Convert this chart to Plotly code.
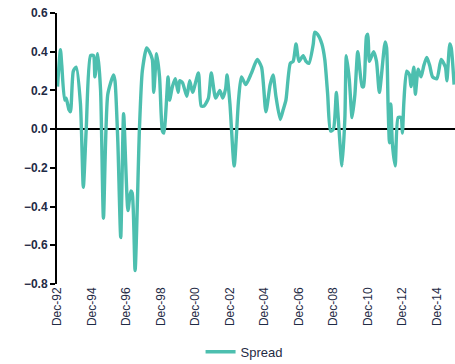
import plotly.graph_objects as go

dates = [
    "1992-12", "1993-02", "1993-03", "1993-05", "1993-06", "1993-08", "1993-09", "1993-11",
    "1994-01", "1994-04", "1994-06", "1994-08", "1994-11", "1995-01", "1995-02", "1995-04",
    "1995-06", "1995-08", "1995-11", "1996-03", "1996-04", "1996-06", "1996-08", "1996-10",
    "1997-01", "1997-03", "1997-04", "1997-06", "1997-09", "1997-11", "1998-02", "1998-04",
    "1998-06", "1998-07", "1998-09", "1998-11", "1999-01", "1999-02", "1999-05", "1999-06",
    "1999-08", "1999-10", "1999-12", "2000-01", "2000-03", "2000-06", "2000-08", "2000-10",
    "2001-02", "2001-04", "2001-06", "2001-09", "2001-11", "2002-02", "2002-05", "2002-07",
    "2002-09", "2002-10", "2002-12", "2003-03", "2003-06", "2003-08", "2003-11", "2004-03",
    "2004-07", "2004-10", "2005-01", "2005-04", "2005-06", "2005-08", "2005-11", "2006-01",
    "2006-03", "2006-06", "2006-08", "2006-10", "2006-12", "2007-03", "2007-05", "2007-07",
    "2007-10", "2007-11", "2008-01", "2008-04", "2008-06", "2008-08", "2008-10", "2008-12",
    "2009-02", "2009-03", "2009-06", "2009-08", "2009-09", "2009-11", "2010-01", "2010-03",
    "2010-05", "2010-08", "2010-09", "2010-11", "2010-12", "2011-01", "2011-04", "2011-06",
    "2011-08", "2011-12", "2012-01", "2012-02", "2012-03", "2012-04", "2012-05", "2012-07",
    "2012-09", "2012-11", "2012-12", "2013-01", "2013-03", "2013-05", "2013-06", "2013-08",
    "2013-09", "2013-11", "2014-01", "2014-03", "2014-05", "2014-07", "2014-09", "2014-12",
    "2015-03", "2015-06", "2015-07", "2015-09", "2015-10", "2015-12",
]
spread = [
    0.22, 0.41, 0.33, 0.15, 0.16, 0.10, 0.09, 0.30,
    0.32, 0.13, -0.30, 0.00, 0.38, 0.38, 0.27, 0.39,
    0.20, -0.46, 0.18, 0.28, 0.25, -0.07, -0.56, 0.08,
    -0.42, -0.32, -0.33, -0.73, 0.00, 0.30, 0.42, 0.40,
    0.36, 0.19, 0.39, 0.27, -0.01, -0.02, 0.27, 0.15,
    0.22, 0.26, 0.19, 0.25, 0.24, 0.17, 0.25, 0.19,
    0.29, 0.12, 0.12, 0.16, 0.29, 0.16, 0.20, 0.16,
    0.21, 0.28, 0.13, -0.19, 0.15, 0.27, 0.23, 0.29,
    0.36, 0.32, 0.09, 0.23, 0.28, 0.17, 0.05, 0.10,
    0.15, 0.34, 0.35, 0.44, 0.35, 0.38, 0.35, 0.34,
    0.44, 0.50, 0.49, 0.44, 0.36, 0.18, -0.01, 0.00,
    0.19, 0.10, -0.19, 0.06, 0.38, 0.26, 0.06, 0.18,
    0.40, 0.22, 0.22, 0.48, 0.49, 0.35, 0.40, 0.35,
    0.19, 0.45, 0.42, 0.13, -0.07, 0.13, -0.07, -0.19,
    0.06, 0.06, -0.02, 0.14, 0.30, 0.28, 0.22, 0.32,
    0.18, 0.31, 0.27, 0.33, 0.37, 0.33, 0.27, 0.26,
    0.36, 0.32, 0.25, 0.44, 0.42, 0.23,
]

y_ticks = [0.6, 0.4, 0.2, 0.0, -0.2, -0.4, -0.6, -0.8]

fig = go.Figure()
fig.add_trace(go.Scatter(
    x=dates, y=spread, mode="lines", name="Spread",
    line=dict(color="#4DBFAF", width=3.4, shape="spline", smoothing=0.6),
))

fig.update_layout(
    width=455, height=364,
    margin=dict(l=57, r=0, t=13, b=80, autoexpand=False),
    paper_bgcolor="white", plot_bgcolor="white",
    font=dict(family="Liberation Sans, Arial, sans-serif", color="#1F2B45"),
    showlegend=True,
    legend=dict(orientation="h", x=0.47, xanchor="center", y=-0.25, yanchor="middle",
                font=dict(size=13, color="#1F2B45")),
    xaxis=dict(
        type="date", range=["1992-11-20", "2015-12-20"], automargin=False,
        tick0="1992-12-01", dtick="M24", tickformat="%b-%y", tickangle=-90,
        showgrid=False, zeroline=False, showline=False, ticks="",
        tickfont=dict(size=12, color="#1F2B45"),
    ),
    yaxis=dict(
        range=[-0.8, 0.6], tickvals=y_ticks, tickformat=".1f", automargin=False,
        showgrid=False, zeroline=True, zerolinecolor="black", zerolinewidth=2,
        showline=True, linecolor="black", linewidth=2,
        ticks="outside", ticklen=5, tickcolor="black", tickwidth=1.5,
        tickfont=dict(size=12, weight="bold", color="#1F2B45"),
    ),
)

fig.write_html("out.html", config={"displayModeBar": False},
               post_script="document.body.style.margin='0';")
